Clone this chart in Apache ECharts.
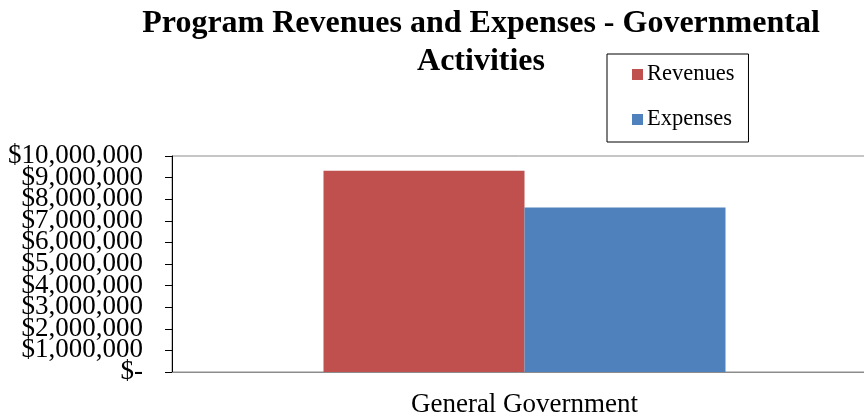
<!DOCTYPE html>
<html><head><meta charset="utf-8">
<script src="https://cdn.jsdelivr.net/npm/echarts@6/dist/echarts.min.js"></script>
<style>html,body{margin:0;padding:0;background:#fff}#c{width:864px;height:415px}</style>
</head><body><div id="c"></div>
<script>
const categories = ['General Government'];
const revenues = [9320000];
const expenses = [7610000];
const seriesNames = ['Revenues', 'Expenses'];
const yTicks = {min: 0, max: 10000000, interval: 1000000};
const yTickLabels = ['$-', '$1,000,000', '$2,000,000', '$3,000,000', '$4,000,000', '$5,000,000',
                     '$6,000,000', '$7,000,000', '$8,000,000', '$9,000,000', '$10,000,000'];
const titleText = 'Program Revenues and Expenses - Governmental\nActivities';

const serif = "'Liberation Serif', 'Times New Roman', serif";
const chart = echarts.init(document.getElementById('c'));
chart.setOption({
  animation: false,
  backgroundColor: '#fff',
  title: {
    text: titleText, left: 476, top: 0, textAlign: 'center',
    textStyle: {fontFamily: serif, fontWeight: 'bold', fontSize: 32, lineHeight: 38, color: '#000'}
  },
  legend: {
    orient: 'vertical', left: 607, top: 54,
    padding: [9, 14, 11, 25], itemGap: 22,
    borderColor: '#000', borderWidth: 1,
    itemWidth: 11, itemHeight: 11, icon: 'rect',
    textStyle: {fontFamily: serif, fontSize: 22.5, color: '#000', padding: [0, 0, 0, -1]},
    data: seriesNames
  },
  grid: {left: 172, top: 156, width: 705, height: 216, show: true, borderColor: '#8c8c8c', borderWidth: 1,
         containLabel: false, outerBoundsMode: 'none'},
  xAxis: {
    type: 'category', data: categories,
    axisLine: {lineStyle: {color: '#8c8c8c', width: 1}},
    axisTick: {show: false},
    axisLabel: {fontFamily: serif, fontSize: 27, color: '#000', margin: 19}
  },
  yAxis: [{
    type: 'value', min: yTicks.min, max: yTicks.max, interval: yTicks.interval,
    splitLine: {show: false},
    axisLine: {show: true, lineStyle: {color: '#000', width: 1}},
    axisTick: {show: true, length: 7, lineStyle: {color: '#000'}},
    axisLabel: {show: false}
  }, {
    type: 'category', data: yTickLabels, boundaryGap: false, position: 'left',
    axisLine: {show: false}, axisTick: {show: false}, splitLine: {show: false},
    axisLabel: {interval: 0, fontFamily: serif, fontSize: 27, color: '#000', margin: 29, hideOverlap: false}
  }],
  series: [
    {name: seriesNames[0], type: 'bar', data: revenues, barWidth: 201, barGap: '0%', yAxisIndex: 0, itemStyle: {color: '#C0504D'}},
    {name: seriesNames[1], type: 'bar', data: expenses, barWidth: 201, barGap: '0%', yAxisIndex: 0, itemStyle: {color: '#4F81BD'}}
  ]
});
</script></body></html>
